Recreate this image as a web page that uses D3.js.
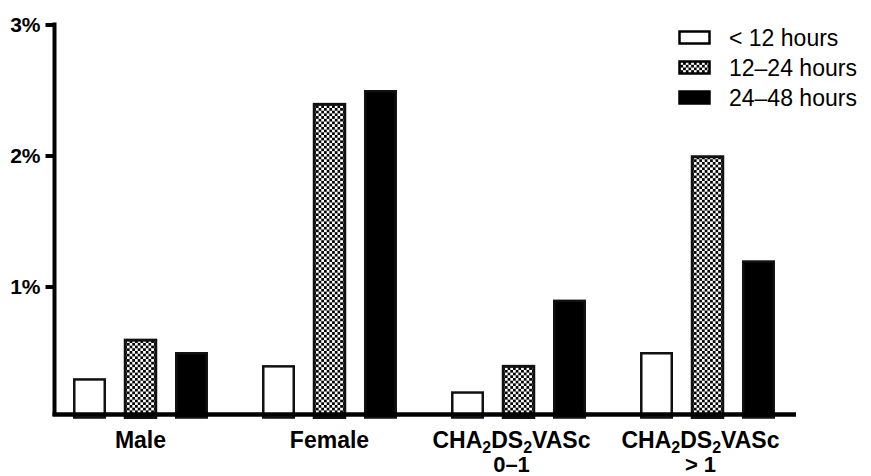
<!DOCTYPE html>
<html><head><meta charset="utf-8">
<script src="https://cdn.jsdelivr.net/npm/d3@7/dist/d3.min.js"></script>
<style>body{margin:0;background:#fff}svg{display:block}text{font-family:"Liberation Sans",Arial,sans-serif}</style>
</head><body><svg id="c" width="871" height="476"></svg>
<script>
const categories = ["Male", "Female", "CHA2DS2VASc 0–1", "CHA2DS2VASc > 1"];
const seriesNames = ["< 12 hours", "12–24 hours", "24–48 hours"];
const under12 = [0.3, 0.4, 0.2, 0.5];
const h12to24 = [0.6, 2.4, 0.4, 2.0];
const h24to48 = [0.5, 2.5, 0.9, 1.2];
const yTicks = [1, 2, 3];
const yTickLabels = ["1%", "2%", "3%"];

const series = [under12, h12to24, h24to48];
const svg = d3.select("#c");
const defs = svg.append("defs");
const pat = defs.append("pattern").attr("id","chk").attr("patternUnits","userSpaceOnUse")
  .attr("width",5.4).attr("height",5.4);
pat.append("rect").attr("width",5.4).attr("height",5.4).attr("fill","#fff");
pat.append("rect").attr("width",2.7).attr("height",2.7).attr("fill","#000");
pat.append("rect").attr("x",2.7).attr("y",2.7).attr("width",2.7).attr("height",2.7).attr("fill","#000");

const x = d3.scaleBand().domain(categories).range([46, 802]).paddingInner(0).paddingOuter(0);
const xs = d3.scaleBand().domain(d3.range(3)).range([0, x.bandwidth()]).paddingInner(0.353).paddingOuter(0.53);
const y = d3.scaleLinear().domain([0, 3]).range([417.5, 24.5]);

const fills = ["#fff", "url(#chk)", "#000"];
categories.forEach((c, i) => {
  series.forEach((s, j) => {
    const v = s[i];
    svg.append("rect")
      .attr("x", x(c) + xs(j) + 1.25)
      .attr("y", y(v) + 1.25)
      .attr("width", xs.bandwidth() - 2.5)
      .attr("height", y(0) - y(v) - 1.25)
      .attr("fill", fills[j])
      .attr("stroke", "#111")
      .attr("stroke-width", j === 1 ? 3 : 2.5);
  });
});

// y axis
const yAxis = svg.append("g").attr("transform","translate(54.5,0)")
  .call(d3.axisLeft(y).tickValues(yTicks).tickFormat((d,i)=>yTickLabels[i]).tickSize(9).tickPadding(5));
yAxis.select(".domain").remove();
yAxis.selectAll(".tick line").attr("stroke","#000").attr("stroke-width",4);
yAxis.selectAll(".tick text").attr("font-size",21).attr("font-weight","bold").attr("fill","#000").attr("dy","0.35em");
svg.append("line").attr("x1",54.5).attr("x2",54.5).attr("y1",y(3)-2).attr("y2",416).attr("stroke","#000").attr("stroke-width",4);
// x axis
svg.append("line").attr("x1",52.5).attr("x2",796).attr("y1",414.5).attr("y2",414.5).attr("stroke","#000").attr("stroke-width",4.5);

// x labels
function label(c, i) {
  let cx = x(c) + x.bandwidth()/2;
  const isCha = c.startsWith("CHA2DS2VASc");
  if (isCha) cx -= 7;
  const t = svg.append("text").attr("x", cx).attr("y", 448).attr("text-anchor","middle")
    .attr("font-size",23).attr("font-weight","bold").attr("fill","#000");
  if (isCha) {
    t.append("tspan").text("CHA");
    t.append("tspan").text("2").attr("font-size",16).attr("dy",5);
    t.append("tspan").text("DS").attr("dy",-5);
    t.append("tspan").text("2").attr("font-size",16).attr("dy",5);
    t.append("tspan").text("VASc").attr("dy",-5);
    svg.append("text").attr("x", cx).attr("y", 472).attr("text-anchor","middle")
      .attr("font-size",22).attr("font-weight","bold").attr("fill","#000")
      .text(c.replace("CHA2DS2VASc ", ""));
  } else t.text(c);
}
categories.forEach(label);

// legend
const lg = svg.append("g");
seriesNames.forEach((n, j) => {
  const yy = 37.5 + j * 30;
  lg.append("rect").attr("x", 679.5).attr("y", yy - 6).attr("width", 30).attr("height", 12)
    .attr("fill", fills[j]).attr("stroke","#000").attr("stroke-width", 2.5);
  lg.append("text").attr("x", 729).attr("y", yy).attr("dy","0.36em").attr("font-size",23).attr("fill","#000").text(n);
});
</script></body></html>
